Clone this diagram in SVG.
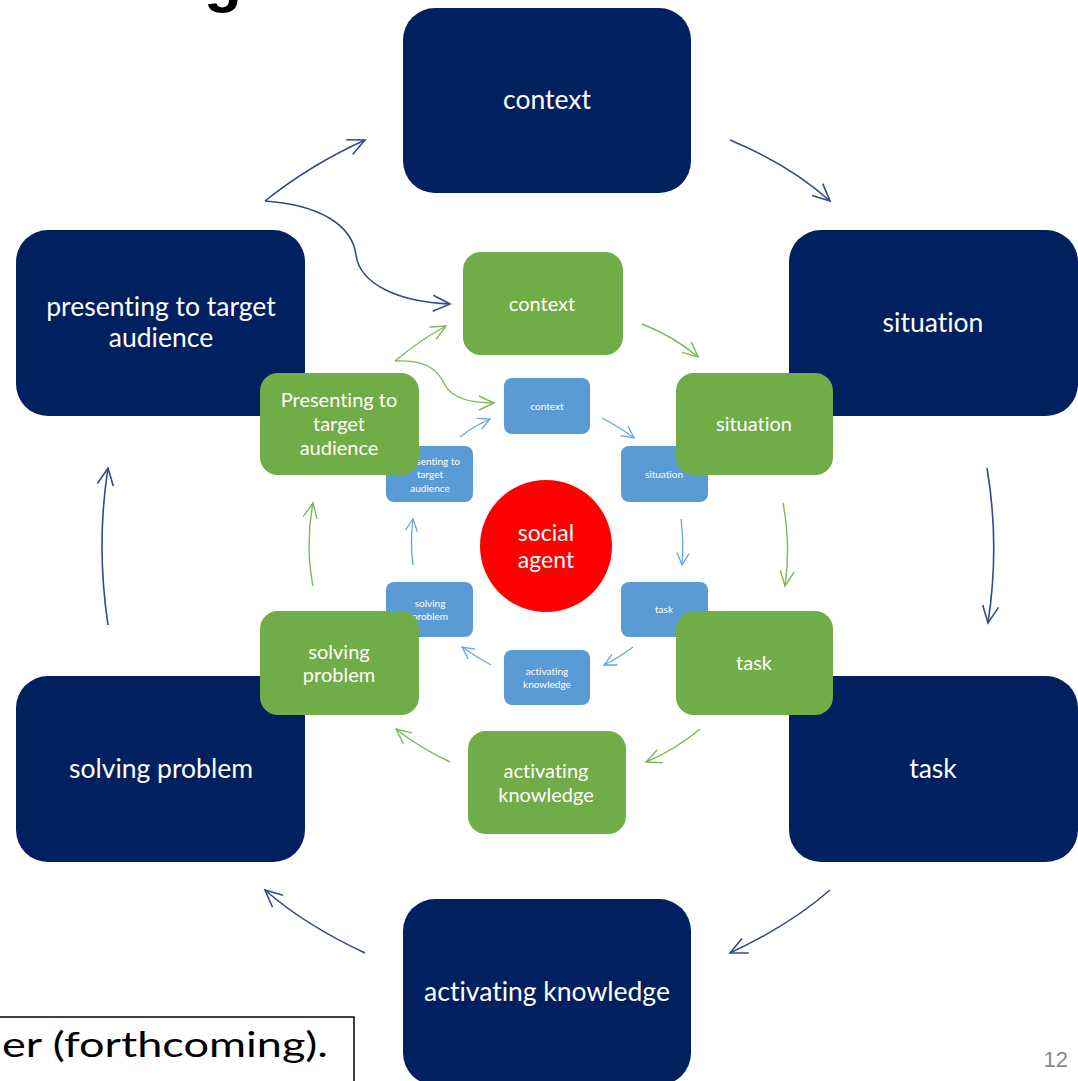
<svg xmlns="http://www.w3.org/2000/svg" width="1078" height="1081" viewBox="0 0 1078 1081">
<defs>
<style>
.dark{fill:#002060}
.grn{fill:#70AD47}
.blu{fill:#5B9BD5}
text{font-variant-ligatures:none}
.t{font-family:Lato,"Liberation Sans",sans-serif;fill:#ffffff;text-anchor:middle;dominant-baseline:central}
.t1{font-size:26.5px}
.t2{font-size:20px}
.t3{font-size:10px}
.cn{fill:none;stroke:#34488E;stroke-width:1.6}
.cg{fill:none;stroke:#7DB85A;stroke-width:1.4}
.cb{fill:none;stroke:#6AA5DC;stroke-width:1.3}
</style>
<marker id="an" markerWidth="1" markerHeight="1" refX="0" refY="0" orient="auto" markerUnits="userSpaceOnUse" overflow="visible">
<path d="M-17,-8 L0,0 L-17,8" fill="none" stroke="#34488E" stroke-width="1.6"/>
</marker>
<marker id="ag" markerWidth="1" markerHeight="1" refX="0" refY="0" orient="auto" markerUnits="userSpaceOnUse" overflow="visible">
<path d="M-15,-7 L0,0 L-15,7" fill="none" stroke="#7DB85A" stroke-width="1.4"/>
</marker>
<marker id="ab" markerWidth="1" markerHeight="1" refX="0" refY="0" orient="auto" markerUnits="userSpaceOnUse" overflow="visible">
<path d="M-12,-6 L0,0 L-12,6" fill="none" stroke="#6AA5DC" stroke-width="1.3"/>
</marker>
</defs>
<rect width="1078" height="1081" fill="#ffffff"/>

<text x="204" y="0" font-family="'Liberation Sans',Arial,sans-serif" font-weight="bold" font-size="62" fill="#000000">g</text>

<g id="connectors">
<path class="cn" marker-end="url(#an)" d="M730,140 Q790,165 830,201"/>
<path class="cn" marker-end="url(#an)" d="M987,468 Q1000,545 988,623"/>
<path class="cn" marker-end="url(#an)" d="M830,890 Q790,925 730,953"/>
<path class="cn" marker-end="url(#an)" d="M365,953 Q305,925 265,890"/>
<path class="cn" marker-end="url(#an)" d="M108,625 Q96,545 108,468"/>
<path class="cn" marker-end="url(#an)" d="M265,201 Q310,165 365,140"/>
<path class="cn" marker-end="url(#an)" d="M265,201 C320,205 352,225 356,255 C360,285 400,302 450,304"/>

<path class="cg" marker-end="url(#ag)" d="M642,324 Q675,337 698,357"/>
<path class="cg" marker-end="url(#ag)" d="M783,503 Q791,545 785,586"/>
<path class="cg" marker-end="url(#ag)" d="M700,729 Q675,750 646,762"/>
<path class="cg" marker-end="url(#ag)" d="M450,762 Q420,748 396,729"/>
<path class="cg" marker-end="url(#ag)" d="M313,586 Q305,545 313,503"/>
<path class="cg" marker-end="url(#ag)" d="M395,361 Q420,340 446,326"/>
<path class="cg" marker-end="url(#ag)" d="M395,361 C425,360 437,368 445,385 C452,398 470,403 494,403"/>

<path class="cb" marker-end="url(#ab)" d="M602,418 Q618,426 634,438"/>
<path class="cb" marker-end="url(#ab)" d="M681,519 Q684,541 682,565"/>
<path class="cb" marker-end="url(#ab)" d="M633,647 Q620,657 604,665"/>
<path class="cb" marker-end="url(#ab)" d="M491,665 Q476,657 462,647"/>
<path class="cb" marker-end="url(#ab)" d="M413,565 Q410,542 413,519"/>
<path class="cb" marker-end="url(#ab)" d="M460,437 Q474,426 490,419"/>
</g>

<g id="d-context"><rect class="dark" x="403" y="8" width="288" height="185" rx="32"/><text class="t t1" x="547" y="99">context</text></g>
<g id="d-situation"><rect class="dark" x="789" y="230" width="289" height="186" rx="32"/><text class="t t1" x="933" y="322">situation</text></g>
<g id="d-task"><rect class="dark" x="789" y="676" width="289" height="186" rx="32"/><text class="t t1" x="933" y="768">task</text></g>
<g id="d-activating"><rect class="dark" x="403" y="899" width="288" height="186" rx="32"/><text class="t t1" x="547" y="991">activating knowledge</text></g>
<g id="d-solving"><rect class="dark" x="16" y="676" width="289" height="186" rx="32"/><text class="t t1" x="161" y="768">solving problem</text></g>
<g id="d-presenting"><rect class="dark" x="16" y="230" width="289" height="186" rx="32"/><text class="t t1" x="161" y="306">presenting to target</text><text class="t t1" x="161" y="337">audience</text></g>

<g id="b-context"><rect class="blu" x="504" y="378" width="86" height="56" rx="8"/><text class="t t3" x="547" y="406">context</text></g>
<g id="b-situation"><rect class="blu" x="621" y="446" width="87" height="56" rx="8"/><text class="t t3" x="664" y="474">situation</text></g>
<g id="b-task"><rect class="blu" x="621" y="582" width="87" height="55" rx="8"/><text class="t t3" x="664" y="609">task</text></g>
<g id="b-activating"><rect class="blu" x="504" y="650" width="86" height="55" rx="8"/><text class="t t3" x="547" y="671">activating</text><text class="t t3" x="547" y="684">knowledge</text></g>
<g id="b-solving"><rect class="blu" x="386" y="582" width="87" height="55" rx="8"/><text class="t t3" x="430" y="603">solving</text><text class="t t3" x="430" y="616">problem</text></g>
<g id="b-presenting"><rect class="blu" x="386" y="446" width="87" height="56" rx="8"/><text class="t t3" x="431" y="461">presenting  to</text><text class="t t3" x="430" y="474">target</text><text class="t t3" x="430" y="488">audience</text></g>

<g id="g-context"><rect class="grn" x="463" y="252" width="160" height="103" rx="18"/><text class="t t2" x="542" y="303">context</text></g>
<g id="g-situation"><rect class="grn" x="676" y="373" width="157" height="102" rx="18"/><text class="t t2" x="754" y="423">situation</text></g>
<g id="g-task"><rect class="grn" x="676" y="611" width="157" height="104" rx="18"/><text class="t t2" x="754" y="662">task</text></g>
<g id="g-activating"><rect class="grn" x="468" y="731" width="158" height="103" rx="18"/><text class="t t2" x="546" y="770">activating</text><text class="t t2" x="546" y="794">knowledge</text></g>
<g id="g-solving"><rect class="grn" x="260" y="611" width="159" height="104" rx="18"/><text class="t t2" x="339" y="651">solving</text><text class="t t2" x="339" y="674">problem</text></g>
<g id="g-presenting"><rect class="grn" x="260" y="373" width="159" height="102" rx="18"/><text class="t t2" x="339" y="399">Presenting to</text><text class="t t2" x="339" y="423">target</text><text class="t t2" x="339" y="447">audience</text></g>

<g id="social-agent"><circle cx="546" cy="546" r="66" fill="#FF0000"/><text class="t" x="546" y="532" font-size="23">social</text><text class="t" x="546" y="559" font-size="23">agent</text></g>

<rect x="-2" y="1017" width="356" height="80" fill="#ffffff" stroke="#000000" stroke-width="1.5"/>
<text x="2" y="1057" font-family="Lato,'Liberation Sans',sans-serif" font-size="35" fill="#000000" textLength="326" lengthAdjust="spacingAndGlyphs">er (forthcoming).</text>
<text x="1068" y="1067" text-anchor="end" font-family="'Liberation Sans',Arial,sans-serif" font-size="22" fill="#8a8a8a">12</text>
</svg>
